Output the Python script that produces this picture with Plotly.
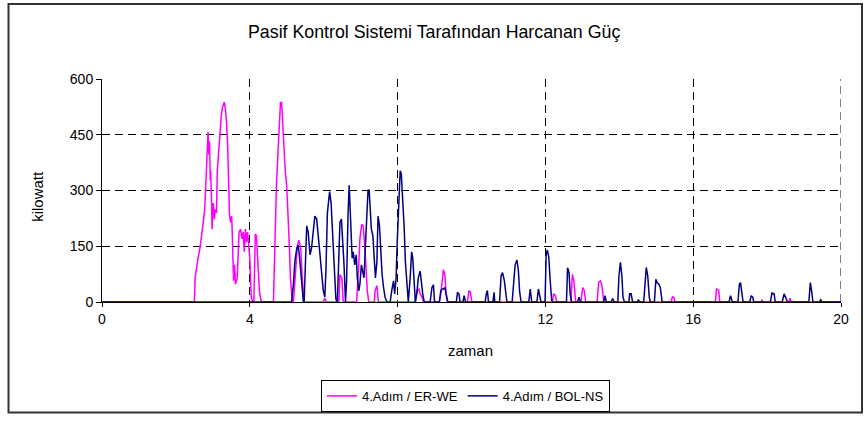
import plotly.graph_objects as go

# ---- data ----
er_we_t = [0, 2.50, 2.52, 2.56, 2.60, 2.65, 2.69, 2.74, 2.78, 2.81, 2.84, 2.87, 2.89, 2.91, 2.93, 2.94,
           2.96, 2.98, 3.01, 3.04, 3.06, 3.10, 3.12, 3.16, 3.19, 3.23, 3.26, 3.31, 3.34, 3.37, 3.40,
           3.42, 3.45, 3.48, 3.51, 3.53, 3.56, 3.59, 3.61, 3.66, 3.69, 3.71, 3.75, 3.79, 3.82, 3.85,
           3.88, 3.91, 3.94, 3.97, 4.00, 4.04, 4.08, 4.11, 4.15, 4.18, 4.20, 4.23, 4.26, 4.29, 4.33,
           4.64, 4.66, 4.70, 4.72, 4.76, 4.80, 4.83, 4.86, 4.89, 4.92, 4.96, 5.00, 5.03, 5.07, 5.10,
           5.14, 5.18, 5.21, 5.25, 5.29, 5.33, 5.38, 5.42, 5.47,
           5.99, 6.03, 6.07, 6.41, 6.44, 6.49, 6.53,
           6.89, 6.94, 6.98, 7.03, 7.07, 7.11, 7.15, 7.18, 7.22, 7.37, 7.39, 7.44, 7.48,
           8.48, 8.52, 8.58, 8.61, 8.66, 8.70,
           9.13, 9.17, 9.21, 9.24, 9.28, 9.31, 9.36, 9.89, 9.93, 9.97, 10.01,
           12.19, 12.22, 12.27, 12.31, 12.69, 12.73, 12.77, 12.82, 12.96, 13.01, 13.05, 13.09,
           13.40, 13.44, 13.49, 13.53, 13.58,
           15.40, 15.44, 15.48, 15.51, 16.60, 16.63, 16.69, 16.72, 17.84, 17.86, 17.88,
           18.59, 18.62, 18.65, 20]
er_we_kw = [0, 0, 65, 96, 118, 144, 170, 214, 249, 319, 353, 458, 397, 432, 327, 353,
            292, 196, 266, 223, 249, 240, 353, 415, 458, 502, 524, 538, 519, 484, 423,
            353, 236, 214, 231, 170, 57, 100, 48, 65, 127, 188, 196, 170, 188, 135,
            196, 161, 188, 144, 118, 13, 0, 0, 183, 179, 135, 65, 30, 9, 0,
            0, 83, 170, 310, 397, 467, 537, 537, 484, 397, 353, 310, 249, 153, 65,
            13, 0, 48, 109, 153, 166, 144, 65, 0,
            0, 10, 0, 0, 74, 65, 0,
            0, 83, 170, 209, 205, 153, 65, 30, 0, 0, 30, 44, 0,
            0, 30, 35, 22, 13, 0,
            0, 22, 57, 87, 70, 26, 0, 0, 31, 26, 0,
            0, 22, 17, 0, 0, 74, 57, 0, 0, 39, 31, 0,
            0, 52, 57, 44, 0,
            0, 15, 11, 0, 0, 35, 32, 0, 0, 6, 0,
            0, 10, 0, 0]

bol_ns_t = [0, 5.13, 5.18, 5.22, 5.27, 5.31, 5.34, 5.38, 5.41, 5.45, 5.47, 5.51, 5.54, 5.58, 5.63,
            5.67, 5.72, 5.76, 5.81, 5.85, 5.90, 5.94, 5.99, 6.03, 6.06, 6.10, 6.14, 6.16, 6.20, 6.23,
            6.26, 6.30, 6.33, 6.37, 6.41, 6.44, 6.48, 6.51, 6.55, 6.59, 6.62, 6.66, 6.69, 6.71, 6.74,
            6.77, 6.80, 6.84, 6.88, 6.91, 6.95, 6.98, 7.02, 7.06, 7.09, 7.13, 7.16, 7.20, 7.23, 7.25,
            7.29, 7.33, 7.36, 7.40, 7.44, 7.47, 7.51, 7.54, 7.58, 7.62, 7.66, 7.71, 7.80, 7.84, 7.89,
            7.92, 7.96, 7.99, 8.03, 8.07, 8.10, 8.14, 8.18, 8.21, 8.25, 8.29, 8.34, 8.38, 8.41, 8.45,
            8.48, 8.52, 8.56, 8.61, 8.64, 8.68, 8.72,
            8.88, 8.93, 8.97, 9.00, 9.13, 9.17, 9.21, 9.24, 9.28, 9.31, 9.35,
            9.59, 9.62, 9.66, 9.69, 9.77, 9.80, 9.84,
            10.37, 10.40, 10.43, 10.46, 10.58, 10.61, 10.63,
            10.76, 10.80, 10.84, 10.89, 10.92, 10.96,
            11.10, 11.14, 11.18, 11.23, 11.27, 11.30, 11.34,
            11.55, 11.59, 11.63, 11.77, 11.81, 11.84, 11.88,
            11.99, 12.02, 12.05, 12.09, 12.13, 12.17, 12.20,
            12.57, 12.60, 12.64, 12.67, 12.71, 12.87, 12.91, 12.95,
            13.58, 13.61, 13.65, 13.78, 13.82, 13.86,
            13.96, 13.99, 14.03, 14.07, 14.10, 14.14, 14.26, 14.28, 14.32, 14.36, 14.48, 14.52, 14.55,
            14.66, 14.70, 14.73, 14.77, 14.81, 14.84, 14.95, 14.99, 15.02, 15.07, 15.11, 15.16,
            16.97, 17.01, 17.06, 17.21, 17.25, 17.28, 17.32, 17.35, 17.53, 17.57, 17.61, 17.64,
            18.09, 18.13, 18.19, 18.22, 18.41, 18.46, 18.50, 18.55,
            19.13, 19.17, 19.21, 19.24, 19.42, 19.45, 19.49, 20]
bol_ns_kw = [0, 0, 48, 109, 144, 153, 127, 83, 30, 0, 0, 100, 205, 188, 127,
             144, 196, 231, 223, 170, 127, 83, 30, 13, 83, 240, 284, 297, 266, 196,
             135, 65, 8, 0, 109, 214, 223, 179, 100, 0, 57, 240, 314, 266, 188,
             118, 135, 100, 127, 65, 30, 48, 100, 83, 65, 153, 240, 301, 301, 257,
             196, 179, 127, 65, 109, 231, 205, 127, 74, 39, 13, 0, 0, 30, 57,
             22, 65, 161, 240, 353, 345, 284, 196, 109, 39, 0, 65, 135, 118, 48,
             0, 22, 65, 83, 48, 22, 0,
             0, 39, 46, 0, 0, 31, 35, 35, 39, 22, 0,
             0, 26, 22, 0, 0, 17, 0,
             0, 22, 31, 0, 0, 26, 0,
             0, 70, 79, 57, 31, 0,
             0, 65, 100, 113, 83, 31, 0,
             0, 35, 0, 0, 35, 22, 0,
             0, 127, 140, 122, 57, 4, 0,
             0, 92, 79, 22, 0, 0, 13, 0,
             0, 17, 0, 0, 9, 0,
             0, 70, 107, 70, 13, 0, 0, 22, 22, 0, 0, 6, 0,
             0, 57, 93, 70, 13, 0, 0, 61, 52, 48, 39, 0,
             0, 17, 0, 0, 48, 52, 13, 0, 0, 17, 13, 0,
             0, 24, 22, 0, 0, 22, 13, 0,
             0, 52, 26, 0, 0, 6, 0, 0]

x_ticks = [0, 4, 8, 12, 16, 20]
y_ticks = [0, 150, 300, 450, 600]

title_text = "Pasif Kontrol Sistemi Tarafından Harcanan Güç"
x_title = "zaman"
y_title = "kilowatt"
name_a = "4.Adım / ER-WE"
name_b = "4.Adım / BOL-NS"

FONT = "Liberation Sans, Arial, sans-serif"

fig = go.Figure()
fig.add_trace(go.Scatter(x=er_we_t, y=er_we_kw, mode="lines", name=name_a,
                         line=dict(color="#FF00FF", width=1.5)))
fig.add_trace(go.Scatter(x=bol_ns_t, y=bol_ns_kw, mode="lines", name=name_b,
                         line=dict(color="#000080", width=1.5)))

W, H = 867, 424
L, R, T, B = 102, 26, 79, 116
pw, ph = W - L - R, H - T - B


def px(xp):
    return (xp - L) / pw


def py(yp):
    return (H - B - yp) / ph


GRID_DASH = "8px,5px"

fig.update_layout(
    width=W, height=H,
    margin=dict(l=L, r=R, t=T, b=B, pad=0),
    paper_bgcolor="white", plot_bgcolor="white",
    font=dict(family=FONT, size=14, color="black"),
    showlegend=True,
    legend=dict(orientation="h", x=px(321), y=py(388), xanchor="left", yanchor="top",
                bordercolor="black", borderwidth=1, bgcolor="white",
                font=dict(family=FONT, size=13, color="black"),
                itemwidth=30, tracegroupgap=0),
    xaxis=dict(range=[0, 20], tickvals=x_ticks, ticktext=[str(v) for v in x_ticks],
               showgrid=True, gridcolor="black", gridwidth=1, griddash=GRID_DASH,
               zeroline=False, showline=True, linecolor="black", linewidth=1,
               ticks="outside", ticklen=4, tickcolor="black",
               tickfont=dict(family=FONT, size=14)),
    yaxis=dict(range=[0, 600], tickvals=y_ticks, ticktext=[str(v) for v in y_ticks],
               showgrid=True, gridcolor="black", gridwidth=1, griddash=GRID_DASH,
               zeroline=False, showline=True, linecolor="black", linewidth=1,
               ticks="outside", ticklen=5, tickcolor="black",
               tickfont=dict(family=FONT, size=14)),
    annotations=[
        dict(text=title_text, xref="paper", yref="paper", x=px(434), y=py(31),
             xanchor="center", yanchor="middle", showarrow=False,
             font=dict(family=FONT, size=17.8, color="black")),
        dict(text=x_title, xref="paper", yref="paper", x=px(470), y=py(358),
             xanchor="center", yanchor="middle", showarrow=False,
             font=dict(family=FONT, size=15, color="black")),
        dict(text=y_title, xref="paper", yref="paper", x=px(38), y=py(200),
             xanchor="center", yanchor="middle", showarrow=False, textangle=-90,
             font=dict(family=FONT, size=15, color="black")),
    ],
    shapes=[
        dict(type="rect", xref="paper", yref="paper", x0=px(8.5), x1=px(862), y0=py(421.5), y1=py(2),
             line=dict(color="#333333", width=2), fillcolor="rgba(0,0,0,0)", layer="below"),
        dict(type="line", xref="x", yref="paper", x0=x_ticks[-1], x1=x_ticks[-1], y0=0, y1=1,
             line=dict(color="black", width=1, dash=GRID_DASH), layer="below"),
    ],
)

fig.write_html("out.html", config={"displayModeBar": False, "staticPlot": True},
               post_script="document.body.style.margin='0px';")
